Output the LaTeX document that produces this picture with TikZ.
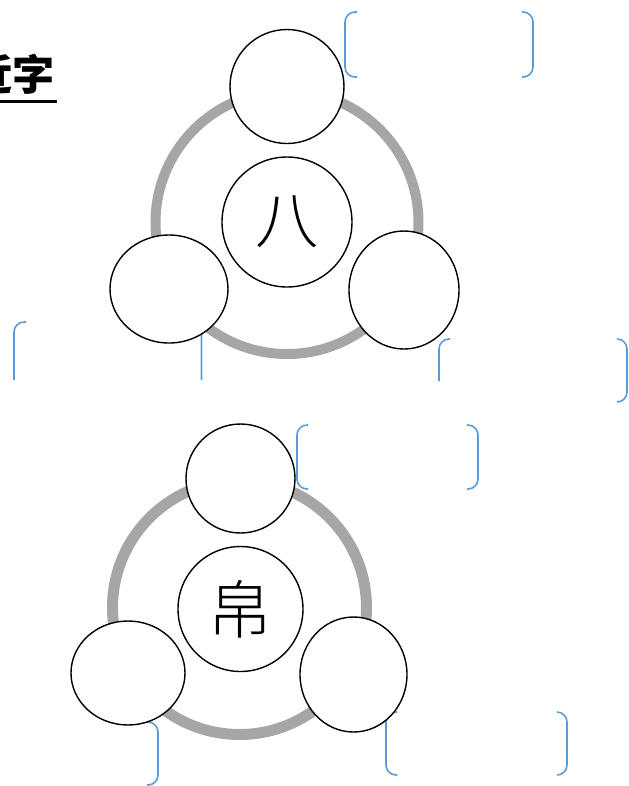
\documentclass[tikz,border=0pt]{standalone}
\usepackage{fontspec}
\usepackage{tikz}
\usetikzlibrary{shapes.geometric}
\newfontfamily\cjk{Noto Sans CJK SC}
\newfontfamily\cjklight{Noto Sans CJK SC Light}
\definecolor{ringgray}{RGB}{166,166,166}
\definecolor{brkblue}{RGB}{91,155,213}
\tikzset{
  disc/.style={draw=black, line width=0.8pt, fill=white, ellipse, inner sep=0pt},
  ring/.style={draw=ringgray, line width=0.2cm},
  brk/.style={draw=brkblue, line width=0.9pt, rounded corners=0.2cm},
  hanzi/.style={font=\cjklight\fontsize{36}{36}\selectfont}
}

\begin{document}
\begin{tikzpicture}
\useasboundingbox (0cm,0cm) rectangle (12.58cm,-15.72cm);
\node[anchor=east, inner sep=0pt, font=\cjk\bfseries\fontsize{24}{24}\selectfont] (ttl) at (1.10cm,-1.48cm) {近字};
\draw[black, line width=0.06cm] (0cm,-2.03cm) -- (1.14cm,-2.03cm);
\draw[brk] (7.14cm,-0.24cm) -- (6.90cm,-0.24cm) -- (6.90cm,-1.54cm) -- (7.14cm,-1.54cm);
\draw[brk] (10.44cm,-0.24cm) -- (10.66cm,-0.24cm) -- (10.66cm,-1.54cm) -- (10.44cm,-1.54cm);
\draw[brk] (0.52cm,-6.44cm) -- (0.28cm,-6.44cm) -- (0.28cm,-7.60cm);
\draw[brk] (3.81cm,-6.44cm) -- (4.03cm,-6.44cm) -- (4.03cm,-7.60cm);
\draw[brk] (9.00cm,-6.78cm) -- (8.78cm,-6.78cm) -- (8.78cm,-7.62cm);
\draw[brk] (12.34cm,-6.78cm) -- (12.54cm,-6.78cm) -- (12.54cm,-8.04cm) -- (12.34cm,-8.04cm);
\draw[brk] (6.16cm,-8.50cm) -- (5.94cm,-8.50cm) -- (5.94cm,-9.78cm) -- (6.16cm,-9.78cm);
\draw[brk] (9.34cm,-8.50cm) -- (9.56cm,-8.50cm) -- (9.56cm,-9.78cm) -- (9.34cm,-9.78cm);
\draw[brk] (2.94cm,-14.44cm) -- (3.16cm,-14.44cm) -- (3.16cm,-15.70cm) -- (2.94cm,-15.70cm);
\draw[brk] (7.94cm,-14.24cm) -- (7.72cm,-14.24cm) -- (7.72cm,-15.50cm) -- (7.94cm,-15.50cm);
\draw[brk] (11.14cm,-14.24cm) -- (11.34cm,-14.24cm) -- (11.34cm,-15.50cm) -- (11.14cm,-15.50cm);
\draw[ring] (5.74cm,-4.45cm) circle (2.63cm);
\node[disc, minimum width=2.6cm, minimum height=2.6cm, hanzi] (1) at (5.74cm,-4.44cm) {八};
\node[disc, minimum width=2.28cm, minimum height=2.28cm] (2) at (5.74cm,-1.73cm) {};
\node[disc, minimum width=2.36cm, minimum height=2.16cm] (3) at (3.38cm,-5.78cm) {};
\node[disc, minimum width=2.20cm, minimum height=2.36cm] (4) at (8.08cm,-5.80cm) {};
\draw[ring, line width=0.22cm] (4.79cm,-12.15cm) circle (2.54cm);
\node[disc, minimum width=2.5cm, minimum height=2.5cm, hanzi] (5) at (4.81cm,-12.18cm) {帛};
\node[disc, minimum width=2.18cm, minimum height=2.18cm] (6) at (4.81cm,-9.57cm) {};
\node[disc, minimum width=2.28cm, minimum height=2.08cm] (7) at (2.56cm,-13.46cm) {};
\node[disc, minimum width=2.14cm, minimum height=2.30cm] (8) at (7.07cm,-13.49cm) {};
\end{tikzpicture}
\end{document}
